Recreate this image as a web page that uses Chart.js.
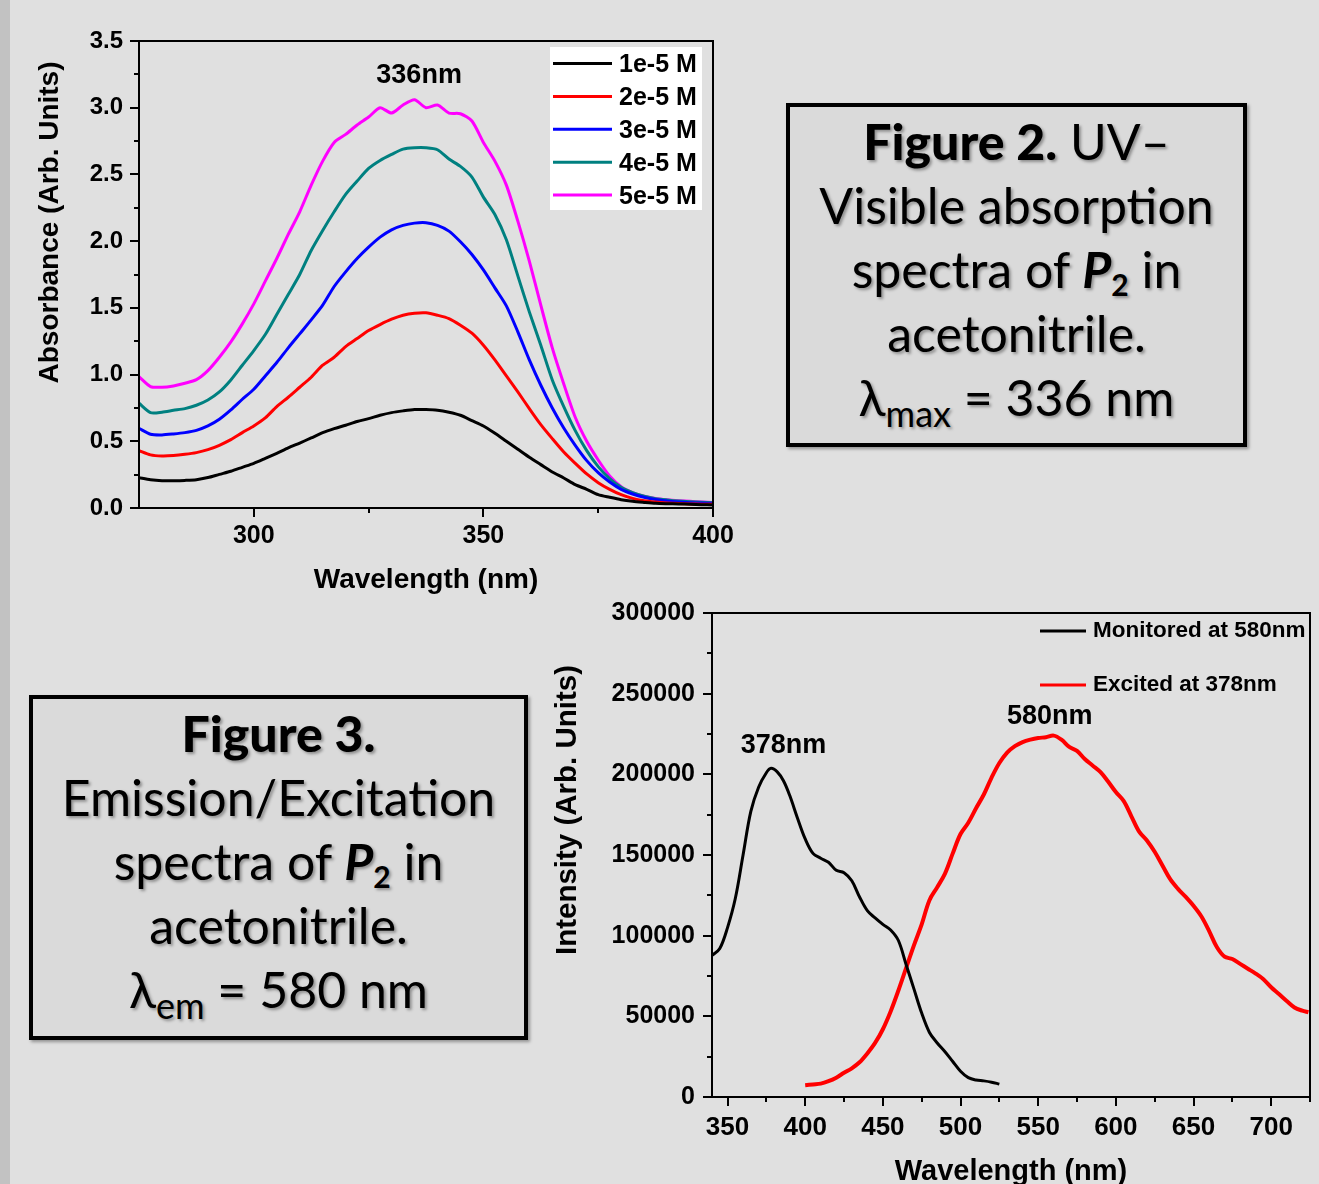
<!DOCTYPE html>
<html>
<head>
<meta charset="utf-8">
<script src="https://cdn.jsdelivr.net/npm/chart.js@4.4.1/dist/chart.umd.min.js"></script>
<style>
html,body{margin:0;padding:0;width:1319px;height:1184px;overflow:hidden;background:#e0e0e0;}
#strip{position:absolute;left:0;top:0;width:10px;height:1184px;background:#c2c2c2;}
#c1wrap{position:absolute;left:0;top:0;width:740px;height:600px;}
#c2wrap{position:absolute;left:540px;top:590px;width:779px;height:620px;}
.box{position:absolute;box-sizing:border-box;border:4px solid #000;background:#dadada;
  box-shadow:2px 2px 3px rgba(0,0,0,0.35);text-align:center;color:#000;
  font-family:Lato,"Open Sans",sans-serif;font-size:50px;line-height:64px;
  text-shadow:2px 2px 3px rgba(0,0,0,0.35);padding-top:2px;white-space:nowrap;}
.box .fb{font-weight:900;}
.box .p{font-weight:bold;font-style:italic;}
.box .p sub{font-size:0.6em;vertical-align:-0.28em;line-height:0;font-style:normal;}
.box sub.s{font-size:0.72em;vertical-align:-0.3em;line-height:0;}
</style>
</head>
<body>
<div id="strip"></div>
<div id="c1wrap"><canvas id="c1" width="740" height="600"></canvas></div>
<div id="c2wrap"><canvas id="c2" width="779" height="620"></canvas></div>

<div class="box" style="left:786px;top:103px;width:461px;height:344px;">
<span class="fb">Figure 2.</span> UV–<br>Visible absorption<br>spectra of <span class="p">P<sub>2</sub></span> in<br>acetonitrile.<br>λ<sub class="s">max</sub> = 336 nm
</div>

<div class="box" style="left:29px;top:695px;width:499px;height:345px;">
<span class="fb">Figure 3.</span><br>Emission/Excitation<br>spectra of <span class="p">P<sub>2</sub></span> in<br>acetonitrile.<br>λ<sub class="s">em</sub> = 580 nm
</div>

<script>
// ---------- Figure 2 data: UV-Vis absorption ----------
const absWavelength = [275,277.5,280,282.5,285,287.5,290,292.5,295,297.5,300,302.5,305,307.5,310,312.5,315,317.5,320,322.5,325,327.5,330,332.5,335,337.5,340,342.5,345,347.5,350,352.5,355,357.5,360,362.5,365,367.5,370,372.5,375,377.5,380,382.5,385,387.5,390,392.5,395,397.5,400];
const abs1e5 = [0.227,0.212,0.205,0.205,0.207,0.212,0.228,0.252,0.275,0.305,0.335,0.372,0.41,0.45,0.487,0.525,0.565,0.595,0.62,0.648,0.67,0.695,0.715,0.728,0.738,0.738,0.733,0.718,0.695,0.655,0.615,0.56,0.5,0.44,0.38,0.325,0.27,0.225,0.175,0.14,0.1,0.08,0.062,0.05,0.042,0.035,0.032,0.03,0.028,0.025,0.022];
const abs2e5 = [0.43,0.398,0.39,0.393,0.402,0.415,0.437,0.47,0.512,0.565,0.615,0.675,0.76,0.83,0.905,0.98,1.07,1.13,1.21,1.27,1.33,1.375,1.415,1.445,1.46,1.463,1.445,1.42,1.37,1.31,1.22,1.11,0.99,0.87,0.745,0.625,0.52,0.42,0.335,0.255,0.19,0.14,0.1,0.072,0.055,0.045,0.038,0.033,0.03,0.029,0.028];
const abs3e5 = [0.597,0.553,0.548,0.555,0.565,0.582,0.615,0.665,0.735,0.815,0.89,0.99,1.09,1.2,1.305,1.41,1.52,1.66,1.77,1.87,1.955,2.03,2.085,2.118,2.135,2.138,2.118,2.075,1.995,1.9,1.784,1.65,1.515,1.32,1.11,0.92,0.75,0.6,0.47,0.355,0.265,0.195,0.14,0.105,0.08,0.063,0.052,0.045,0.04,0.037,0.035];
const abs4e5 = [0.785,0.715,0.718,0.732,0.745,0.77,0.81,0.87,0.96,1.07,1.18,1.3,1.45,1.6,1.75,1.93,2.08,2.22,2.35,2.45,2.545,2.605,2.65,2.69,2.7,2.7,2.685,2.615,2.56,2.48,2.33,2.2,2.01,1.74,1.47,1.22,0.96,0.76,0.58,0.43,0.31,0.22,0.155,0.115,0.088,0.07,0.06,0.052,0.047,0.043,0.04];
const abs5e5 = [0.984,0.91,0.905,0.915,0.935,0.962,1.03,1.13,1.245,1.38,1.53,1.7,1.87,2.05,2.22,2.42,2.6,2.74,2.8,2.87,2.93,3.0,2.96,3.02,3.06,3.0,3.02,2.96,2.955,2.9,2.74,2.6,2.42,2.15,1.85,1.52,1.2,0.93,0.68,0.5,0.36,0.24,0.16,0.115,0.088,0.072,0.062,0.055,0.05,0.045,0.042];
const absSeries = [abs1e5, abs2e5, abs3e5, abs4e5, abs5e5];
const absLabels = ['1e-5 M','2e-5 M','3e-5 M','4e-5 M','5e-5 M'];
const absColors = ['#000000','#ff0000','#0000ff','#008080','#ff00ff'];
const absXTicks = [300,350,400];
const absXMinorTicks = [325,375];
const absYTicks = [0,0.5,1.0,1.5,2.0,2.5,3.0,3.5];
const absYMinorTicks = [0.25,0.75,1.25,1.75,2.25,2.75,3.25];
const absPeakText = '336nm';
const absPeakWavelength = 336;

// ---------- Figure 3 data: excitation / emission ----------
const excWavelength = [340,345,350,355,360,365,370,375,378,382,386,390,395,400,405,410,415,420,425,430,435,440,445,450,455,460,465,470,475,480,485,490,495,500,505,510,515,520,525];
const excIntensity = [87800,92000,105000,123000,150000,177000,192000,201000,203700,201500,196000,187000,173000,160000,151000,148000,145500,140500,139000,134000,124000,115500,111000,107000,103500,97000,82000,67000,52000,40000,33500,28000,22000,16000,12000,10500,10000,9200,8000];
const emWavelength = [400,405,410,415,420,425,430,435,440,445,450,455,460,465,470,475,480,485,490,495,500,505,510,515,520,525,530,535,540,545,550,555,560,565,570,575,580,585,590,595,600,605,610,615,620,625,630,635,640,645,650,655,660,665,670,675,680,685,690,695,700,705,710,715,720,724];
const emIntensity = [7300,7800,8300,9800,12000,15000,17800,21500,27000,33500,42000,53000,66000,80000,94000,107000,122000,130000,138500,151000,163000,170000,179000,187500,198000,207000,213500,217500,220000,221500,222500,223000,224000,221500,217000,214500,209500,205500,201500,195500,189000,183500,174000,164500,159000,152000,143500,135000,129000,124000,118500,112000,103000,93000,87000,85500,82500,79500,76500,73000,68000,63800,59500,55500,53500,52500];
const flLabels = ['Monitored at 580nm','Excited at 378nm'];
const flColors = ['#000000','#ff0000'];
const flXTicks = [350,400,450,500,550,600,650,700];
const flXMinorTicks = [375,425,475,525,575,625,675,725];
const flYTicks = [0,50000,100000,150000,200000,250000,300000];
const flYMinorTicks = [25000,75000,125000,175000,225000,275000];
const flPeakTexts = ['378nm','580nm'];
const flPeakWavelengths = [386,557.5];

// ---------- plugins ----------
const FONT = "'Liberation Sans', Arial, Helvetica, sans-serif";

const frameAndMinor = {
  id: 'frameAndMinor',
  afterDraw(chart, args, o) {
    const {ctx, chartArea: a, scales} = chart;
    ctx.save();
    ctx.strokeStyle = '#000';
    ctx.lineWidth = o.frameWidth;
    ctx.strokeRect(a.left, a.top, a.right - a.left, a.bottom - a.top);
    ctx.lineWidth = o.tickWidth;
    ctx.beginPath();
    (o.xMinor || []).forEach(v => {
      const px = Math.round(scales.x.getPixelForValue(v));
      ctx.moveTo(px, a.bottom); ctx.lineTo(px, a.bottom + o.minorLength);
    });
    (o.yMinor || []).forEach(v => {
      const py = Math.round(scales.y.getPixelForValue(v));
      ctx.moveTo(a.left, py); ctx.lineTo(a.left - o.minorLength, py);
    });
    ctx.stroke();
    ctx.restore();
  }
};

const insideLegend = {
  id: 'insideLegend',
  afterDraw(chart, args, o) {
    const {ctx, chartArea: a} = chart;
    const left = a.right - o.right - o.width;
    const top = a.top + o.top;
    ctx.save();
    if (o.background) {
      ctx.fillStyle = o.background;
      ctx.fillRect(left, top, o.width, o.height);
    }
    ctx.font = o.font;
    ctx.textBaseline = 'middle';
    ctx.textAlign = 'left';
    chart.data.datasets.forEach((d, i) => {
      const y = top + o.firstRow + i * o.rowGap;
      ctx.strokeStyle = d.borderColor;
      ctx.lineWidth = o.lineWidth;
      ctx.beginPath();
      ctx.moveTo(left + o.lineStart, y);
      ctx.lineTo(left + o.lineStart + o.lineLength, y);
      ctx.stroke();
      ctx.fillStyle = '#000';
      ctx.fillText(d.label, left + o.textStart, y + o.textDy);
    });
    ctx.restore();
  }
};

const peakLabels = {
  id: 'peakLabels',
  afterDatasetsDraw(chart, args, o) {
    const {ctx, scales} = chart;
    ctx.save();
    ctx.font = o.font;
    ctx.fillStyle = '#000';
    ctx.textAlign = 'center';
    ctx.textBaseline = 'middle';
    o.items.forEach(it => {
      ctx.fillText(it.text, scales.x.getPixelForValue(it.x), scales.y.getPixelForValue(it.y));
    });
    ctx.restore();
  }
};

const sideTitle = {
  id: 'sideTitle',
  afterDraw(chart, args, o) {
    const {ctx, chartArea: a, scales} = chart;
    ctx.save();
    ctx.translate(scales.y.left + o.offset, (a.top + a.bottom) / 2 + o.shift);
    ctx.rotate(-Math.PI / 2);
    ctx.font = o.font;
    ctx.fillStyle = '#000';
    ctx.textAlign = 'center';
    ctx.textBaseline = 'middle';
    ctx.fillText(o.text, 0, 0);
    ctx.restore();
  }
};

function axis(opts) {
  return Object.assign({
    type: 'linear',
    grid: { display: true, drawOnChartArea: false, drawTicks: true, tickLength: 9, tickWidth: 2, lineWidth: 2, tickColor: '#000', color: '#000' },
    border: { display: true, color: '#000', width: 2 }
  }, opts);
}

// ---------- Figure 2 chart ----------
new Chart(document.getElementById('c1'), {
  type: 'line',
  data: {
    datasets: absSeries.map((s, i) => ({
      label: absLabels[i],
      data: absWavelength.map((w, j) => ({ x: w, y: s[j] })),
      borderColor: absColors[i],
      borderWidth: 3,
      pointRadius: 0,
      tension: 0.25,
      fill: false
    }))
  },
  options: {
    responsive: false,
    animation: false,
    devicePixelRatio: 1,
    layout: { padding: { left: 0, top: 41, right: 27, bottom: 0 } },
    scales: {
      x: axis({
        min: 275, max: 400,
        afterBuildTicks: s => { s.ticks = absXTicks.map(v => ({ value: v })); },
        afterFit: s => { s.height = 92; },
        ticks: { color: '#000', font: { family: FONT, size: 25, weight: 'bold' }, padding: 4, maxRotation: 0, autoSkip: false },
        title: { display: true, text: 'Wavelength (nm)', color: '#000', font: { family: FONT, size: 28, weight: 'bold' }, padding: { top: 0, bottom: 3 } }
      }),
      y: axis({
        min: 0, max: 3.5,
        afterBuildTicks: s => { s.ticks = absYTicks.map(v => ({ value: v })); },
        afterFit: s => { s.width = 139; },
        ticks: { color: '#000', font: { family: FONT, size: 24, weight: 'bold' }, padding: 7, callback: v => Number(v).toFixed(1) }
      })
    },
    plugins: {
      legend: { display: false },
      tooltip: { enabled: false },
      frameAndMinor: { frameWidth: 2, tickWidth: 2, minorLength: 5, xMinor: absXMinorTicks, yMinor: absYMinorTicks },
      insideLegend: { background: '#ffffff', right: 11, top: 6, width: 152, height: 163, firstRow: 16.5, rowGap: 32.9,
        lineStart: 3, lineLength: 59, lineWidth: 3, textStart: 69, textDy: 2, font: 'bold 25px ' + FONT },
      peakLabels: { font: 'bold 27px ' + FONT, items: [{ x: absPeakWavelength, y: 3.24, text: absPeakText }] },
      sideTitle: { text: 'Absorbance (Arb. Units)', font: 'bold 28px ' + FONT, offset: 50, shift: -52 }
    }
  },
  plugins: [frameAndMinor, insideLegend, peakLabels, sideTitle]
});

// ---------- Figure 3 chart ----------
new Chart(document.getElementById('c2'), {
  type: 'line',
  data: {
    datasets: [
      { label: flLabels[0], data: excWavelength.map((w, j) => ({ x: w, y: excIntensity[j] })),
        borderColor: flColors[0], borderWidth: 3, pointRadius: 0, tension: 0.35, fill: false },
      { label: flLabels[1], data: emWavelength.map((w, j) => ({ x: w, y: emIntensity[j] })),
        borderColor: flColors[1], borderWidth: 4, pointRadius: 0, tension: 0.35, fill: false }
    ]
  },
  options: {
    responsive: false,
    animation: false,
    devicePixelRatio: 1,
    layout: { padding: { left: 0, top: 22, right: 9, bottom: 0 } },
    scales: {
      x: axis({
        min: 340, max: 725,
        afterBuildTicks: s => { s.ticks = flXTicks.map(v => ({ value: v })); },
        afterFit: s => { s.height = 113; },
        ticks: { color: '#000', font: { family: FONT, size: 26, weight: 'bold' }, padding: 6, maxRotation: 0, autoSkip: false },
        title: { display: true, text: 'Wavelength (nm)', color: '#000', font: { family: FONT, size: 29, weight: 'bold' }, padding: { top: 0, bottom: 21 } }
      }),
      y: axis({
        min: 0, max: 300000,
        afterBuildTicks: s => { s.ticks = flYTicks.map(v => ({ value: v })); },
        afterFit: s => { s.width = 172; },
        ticks: { color: '#000', font: { family: FONT, size: 25, weight: 'bold' }, padding: 8, callback: v => String(v) }
      })
    },
    plugins: {
      legend: { display: false },
      tooltip: { enabled: false },
      frameAndMinor: { frameWidth: 2, tickWidth: 2, minorLength: 5, xMinor: flXMinorTicks, yMinor: flYMinorTicks },
      insideLegend: { background: null, right: 0, top: 0, width: 270, height: 100, firstRow: 18, rowGap: 54,
        lineStart: 0, lineLength: 46, lineWidth: 3, textStart: 53, textDy: 0, font: 'bold 22.5px ' + FONT },
      peakLabels: { font: 'bold 27px ' + FONT, items: [
        { x: flPeakWavelengths[0], y: 218000, text: flPeakTexts[0] },
        { x: flPeakWavelengths[1], y: 235700, text: flPeakTexts[1] }
      ] },
      sideTitle: { text: 'Intensity (Arb. Units)', font: 'bold 29.5px ' + FONT, offset: 28, shift: -45 }
    }
  },
  plugins: [frameAndMinor, insideLegend, peakLabels, sideTitle]
});
</script>
</body>
</html>
